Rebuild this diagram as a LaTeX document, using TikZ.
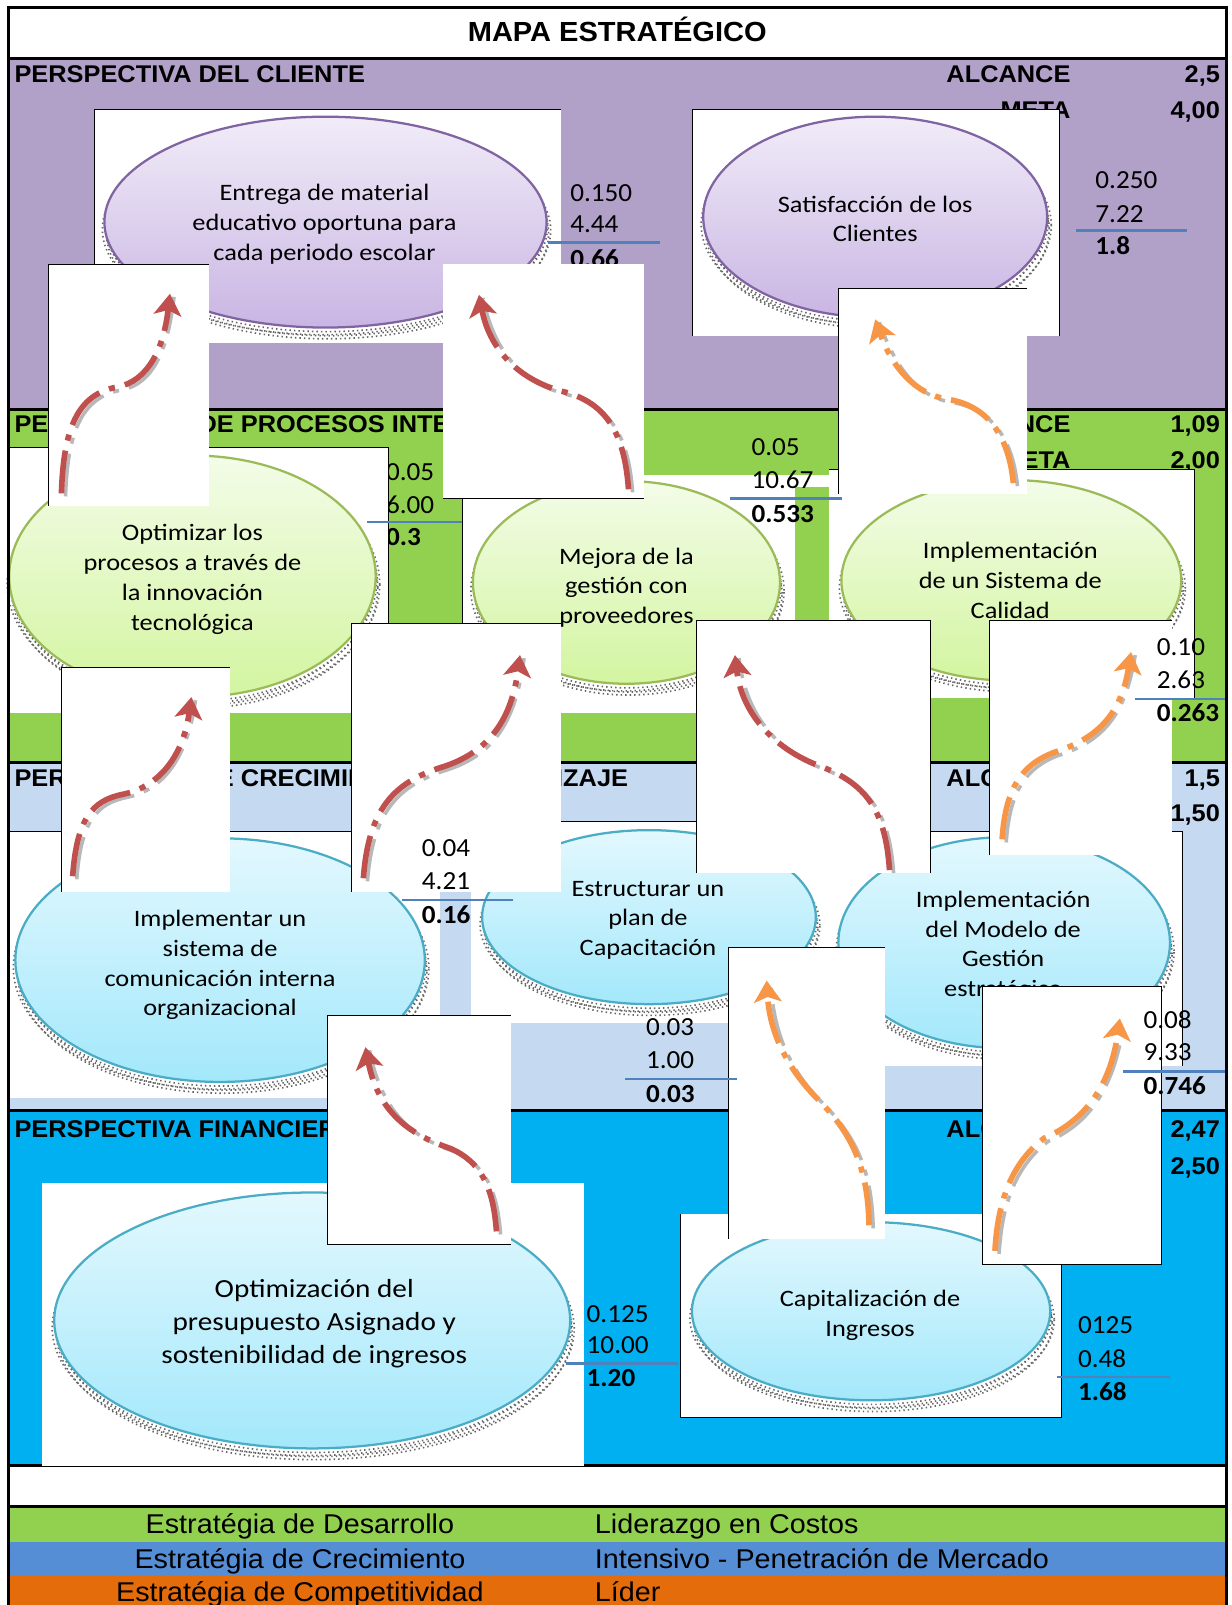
\documentclass[tikz,border=0pt]{standalone}
\usepackage{fontspec}
\usetikzlibrary{arrows.meta}
\newfontfamily\hdrfont{Liberation Sans}[FakeStretch=1.05]
\newfontfamily\legfont{Liberation Sans}[FakeStretch=1.06]
\newfontfamily\elfont{Carlito}[FakeStretch=1.12]
\newfontfamily\valfont{Carlito}[FakeStretch=1.04]

\definecolor{purpleband}{HTML}{B1A0C7}
\definecolor{greenband}{HTML}{92D050}
\definecolor{paleblue}{HTML}{C5D9F1}
\definecolor{cyanband}{HTML}{00B0F0}
\definecolor{legblue}{HTML}{558ED5}
\definecolor{legorange}{HTML}{E46C0A}
\definecolor{arrowred}{HTML}{C0504D}
\definecolor{arroworange}{HTML}{F79646}
\definecolor{ruleblue}{HTML}{4F81BD}
\definecolor{lavtop}{HTML}{F1ECF8}
\definecolor{lavbot}{HTML}{C9B5E3}
\definecolor{lavedge}{HTML}{8064A2}
\definecolor{limetop}{HTML}{F3FCE8}
\definecolor{limebot}{HTML}{D3F5A0}
\definecolor{limeedge}{HTML}{9BBB59}
\definecolor{skytop}{HTML}{E3F8FE}
\definecolor{skybot}{HTML}{A3E8FB}
\definecolor{skyedge}{HTML}{4BACC6}

% objective oval with stippled drop shadow: center, x radius, y radius, top, bottom, edge
\newcommand\drawoval[6]{%
  \foreach \dx/\dy in {1/4,4/8,-2/7,2/11}{%
    \draw[ellshadow, shift={(\dx,\dy)}] #1 ellipse [x radius=#2pt, y radius=#3pt];}
  \shade[top color=#4, bottom color=#5] #1 ellipse [x radius=#2pt, y radius=#3pt];
  \draw[#6, line width=2.2pt] #1 ellipse [x radius=#2pt, y radius=#3pt];
}

\begin{document}
\begin{tikzpicture}[x=1pt,y=-1pt,
  hdr/.style={font=\hdrfont\bfseries\fontsize{23.6}{27}\selectfont, inner sep=0pt},
  etext/.style={font=\elfont\fontsize{23}{29}\selectfont, align=center, inner sep=0pt},
  val/.style={font=\valfont\fontsize{25.5}{28}\selectfont, inner sep=0pt, anchor=base west},
  valb/.style={inner sep=0pt, anchor=base west, font=\valfont\bfseries\fontsize{25.5}{28}\selectfont},
  legtext/.style={font=\legfont\fontsize{26.5}{29}\selectfont, inner sep=0pt},
  band/.style={black, line width=3.2pt},
  boxedge/.style={black, line width=1pt},
  rule/.style={ruleblue, line width=2.4pt},
  ellshadow/.style={black!60, line width=1.6pt, dash pattern=on 1.4pt off 3pt},
  flow/.style={line width=5.5pt, dash pattern=on 42pt off 10pt on 6pt off 10pt,
    -{Stealth[length=21pt,width=27pt,inset=5pt]},
    preaction={draw=black!28, -, line width=3.5pt,
      dash pattern=on 42pt off 10pt on 6pt off 10pt,
      transform canvas={shift={(4,3)}}}},
  redflow/.style={flow, draw=arrowred},
  orgflow/.style={flow, draw=arroworange},
]
\useasboundingbox (0,0) rectangle (1203,1568);
\fill[white] (0,0) rectangle (1203,1568);

% ---------- perspective bands ----------
\fill[purpleband] (8,57) rectangle (1198,400);
\fill[greenband] (8,400) rectangle (1198,745);
\fill[paleblue] (8,745) rectangle (1198,1085);
\fill[cyanband] (8,1085) rectangle (1198,1432);
\fill[greenband] (8,1472) rectangle (1198,1506);
\fill[legblue] (8,1506) rectangle (1198,1539);
\fill[legorange] (8,1539) rectangle (1198,1570);
\foreach \yy in {57,400,745,1085,1432,1472}{\draw[band] (8,\yy) -- (1198,\yy);}

% ---------- title and band headers ----------
\node[font=\hdrfont\bfseries\fontsize{27}{30}\selectfont, anchor=base, inner sep=0pt] (title) at (603,41) {MAPA ESTRATÉGICO};

\node[hdr, anchor=base west] (hdrA) at (14,81) {PERSPECTIVA DEL CLIENTE};
\node[hdr, anchor=base east] (alcA) at (1046,81) {ALCANCE};
\node[hdr, anchor=base east] (alcAv) at (1192,81) {2,5};
\node[hdr, anchor=base east] (metA) at (1046,116) {META};
\node[hdr, anchor=base east] (metAv) at (1192,116) {4,00};

\node[hdr, anchor=base west] (hdrB) at (14,423) {PERSPECTIVA DE PROCESOS INTERNOS};
\node[hdr, anchor=base east] (alcB) at (1046,423) {ALCANCE};
\node[hdr, anchor=base east] (alcBv) at (1192,423) {1,09};
\node[hdr, anchor=base east] (metB) at (1046,458) {META};
\node[hdr, anchor=base east] (metBv) at (1192,458) {2,00};

\node[hdr, anchor=base west] (hdrC) at (14,768) {PERSPECTIVA DE CRECIMIENTO Y APRENDIZAJE};
\node[hdr, anchor=base east] (alcC) at (1046,768) {ALCANCE};
\node[hdr, anchor=base east] (alcCv) at (1192,768) {1,5};
\node[hdr, anchor=base east] (metC) at (1046,803) {META};
\node[hdr, anchor=base east] (metCv) at (1192,803) {1,50};

\node[hdr, anchor=base west] (hdrD) at (14,1111) {PERSPECTIVA FINANCIERA};
\node[hdr, anchor=base east] (alcD) at (1046,1111) {ALCANCE};
\node[hdr, anchor=base east] (alcDv) at (1192,1111) {2,47};
\node[hdr, anchor=base east] (metD) at (1046,1147) {META};
\node[hdr, anchor=base east] (metDv) at (1192,1147) {2,50};

% ---------- objective panels ----------
% customer: delivery of material
\fill[white] (92,107) rectangle (548,335);
\draw[boxedge] (92,335) -- (92,107) -- (548,107);
\drawoval{(318,217)}{216}{103}{lavtop}{lavbot}{lavedge}
\node[etext] (entrega) at (317,219) {Entrega de material\\educativo oportuna para\\cada periodo escolar};

% customer: satisfaction
\fill[white] (677,107) rectangle (1035,328);
\draw[boxedge] (677,328) -- (677,107) -- (1035,107) -- (1035,328);
\drawoval{(855,212)}{168}{98}{lavtop}{lavbot}{lavedge}
\node[etext] (satisf) at (855,214) {Satisfacción de los\\Clientes};

% processes: technology
\node[val] (dA) at (377,469) {0.05};
\node[val] (dB) at (377,502) {6.00};
\node[valb] (dC) at (377,533) {0.3};
\fill[white] (8,437) rectangle (380,697);
\draw[boxedge] (8,437) -- (380,437) -- (380,697);
\drawoval{(188,563)}{179}{118}{limetop}{limebot}{limeedge}
\node[etext] (optim) at (188,566) {Optimizar los\\procesos a través de\\la innovación\\tecnológica};
\draw[rule] (359,510) -- (468,510);

% processes: suppliers
\fill[white] (452,464) rectangle (777,697);
\fill[white] (777,464) rectangle (811,476);
\draw[boxedge] (452,464) -- (452,697);
\drawoval{(612,569)}{150}{99}{limetop}{limebot}{limeedge}
\node[etext] (mejora) at (612,574) {Mejora de la\\gestión con\\proveedores};

% processes: quality system
\fill[white] (810,459) rectangle (1167,682);
\draw[boxedge] (810,459) -- (1167,459) -- (1167,682);
\drawoval{(988,567)}{166}{98}{limetop}{limebot}{limeedge}
\node[etext] (calidad) at (987,567) {Implementación\\de un Sistema de\\Calidad};

% learning: internal communication
\fill[white] (8,812) rectangle (430,1073);
\draw[boxedge] (8,812) -- (430,812);
\drawoval{(215,938)}{200}{119}{skytop}{skybot}{skyedge}
\node[etext] (comunic) at (215,943) {Implementar un\\sistema de\\comunicación interna\\organizacional};

% learning: training plan
\fill[white] (460,803) rectangle (811,999);
\draw[boxedge] (460,803) -- (811,803) -- (811,999);
\drawoval{(634,896)}{163}{85}{skytop}{skybot}{skyedge}
\node[etext] (capacit) at (633,899) {Estructurar un\\plan de\\Capacitación};

% learning: strategic management model
\fill[white] (811,812) rectangle (1155,1041);
\draw[boxedge] (811,812) -- (1155,812) -- (1155,1041);
\drawoval{(981,921)}{162}{103}{skytop}{skybot}{skyedge}
\node[etext] (modelo) at (980,924) {Implementación\\del Modelo de\\Gestión\\estratégico};

% financial: budget
\fill[white] (41,1156) rectangle (571,1432);
\drawoval{(305,1290)}{252}{125}{skytop}{skybot}{skyedge}
\node[etext, font=\elfont\fontsize{25.5}{32.5}\selectfont] (presup) at (307,1293) {Optimización del\\presupuesto Asignado y\\sostenibilidad de ingresos};

% financial: income
\fill[white] (665,1186) rectangle (1037,1385);
\draw[boxedge] (665,1186) -- (665,1385) -- (1037,1385) -- (1037,1186);
\drawoval{(851,1281)}{175}{87}{skytop}{skybot}{skyedge}
\node[etext, font=\elfont\fontsize{23}{30}\selectfont] (capital) at (850,1285) {Capitalización de\\Ingresos};

% ---------- scores ----------
\node[val] (aA) at (557,197) {0.150};
\node[val] (aB) at (557,227) {4.44};
\node[valb] (aC) at (557,261) {0.66};
\draw[rule] (535,237) -- (645,237);

\node[val] (bA) at (1070,184) {0.250};
\node[val] (bB) at (1070,217) {7.22};
\node[valb] (bC) at (1070,249) {1.8};
\draw[rule] (1051,225) -- (1160,225);

\node[val] (eA) at (734,445) {0.05};
\node[val] (eB) at (734,477) {10.67};
\node[valb] (eC) at (734,510) {0.533};
\draw[rule] (713,487) -- (823,487);

\node[val] (lA) at (573,1292) {0.125};
\node[val] (lB) at (573,1322) {10.00};
\node[valb] (lC) at (573,1355) {1.20};
\draw[rule] (553,1332) -- (662,1332);

\node[val] (mA) at (1053,1303) {0125};
\node[val] (mB) at (1053,1336) {0.48};
\node[valb] (mC) at (1053,1368) {1.68};
\draw[rule] (1033,1345) -- (1143,1345);

% ---------- cause-effect arrows ----------
% C1
\fill[white] (47,258) rectangle (204,494);
\draw[boxedge] (47,494) -- (47,258) -- (204,258);
\coordinate (c1s) at (60,482); \coordinate (c1e) at (166,287);
\draw[redflow] (c1s) .. controls (62,420) and (75,385) .. (115,378) .. controls (145,372) and (160,340) .. (c1e);
% C2
\fill[white] (433,258) rectangle (629,487);
\draw[boxedge] (433,487) -- (629,487);
\coordinate (c2s) at (614,478); \coordinate (c2e) at (468,288);
\draw[redflow] (c2s) .. controls (610,420) and (590,392) .. (548,382) .. controls (505,370) and (478,340) .. (c2e);
% C3
\fill[white] (819,282) rectangle (1003,483);
\draw[boxedge] (819,483) -- (819,282) -- (1003,282);
\coordinate (c3s) at (990,472); \coordinate (c3e) at (855,312);
\draw[orgflow] (c3s) .. controls (985,420) and (960,395) .. (925,390) .. controls (895,385) and (872,360) .. (c3e);
% G1
\fill[white] (60,652) rectangle (225,871);
\draw[boxedge] (60,871) -- (60,652) -- (225,652);
\coordinate (g1s) at (71,856); \coordinate (g1e) at (187,681);
\draw[redflow] (g1s) .. controls (75,800) and (90,782) .. (120,776) .. controls (150,770) and (178,745) .. (g1e);
% G2
\fill[white] (343,609) rectangle (548,871);
\draw[boxedge] (343,871) -- (343,609) -- (548,609);
\coordinate (g2s) at (355,858); \coordinate (g2e) at (508,640);
\draw[redflow] (g2s) .. controls (360,790) and (385,765) .. (430,750) .. controls (480,735) and (500,700) .. (g2e);
% G3
\fill[white] (680,606) rectangle (909,853);
\draw[boxedge] (680,853) -- (680,606) -- (909,606) -- (909,853);
\coordinate (g3s) at (869,850); \coordinate (g3e) at (718,640);
\draw[redflow] (g3s) .. controls (865,790) and (845,765) .. (800,748) .. controls (760,733) and (725,700) .. (g3e);
% G4
\fill[white] (967,606) rectangle (1145,835);
\draw[boxedge] (967,835) -- (967,606) -- (1145,606);
\coordinate (g4s) at (979,820); \coordinate (g4e) at (1105,637);
\draw[orgflow] (g4s) .. controls (982,775) and (995,748) .. (1030,735) .. controls (1070,722) and (1095,700) .. (g4e);
% K1
\fill[white] (320,992) rectangle (499,1216);
\draw[boxedge] (499,1216) -- (320,1216) -- (320,992) -- (499,992);
\coordinate (k1s) at (485,1203); \coordinate (k1e) at (357,1023);
\draw[redflow] (k1s) .. controls (482,1160) and (470,1135) .. (440,1122) .. controls (405,1110) and (370,1090) .. (k1e);
% K2
\fill[white] (712,926) rectangle (865,1210);
\draw[boxedge] (712,1210) -- (712,926) -- (865,926);
\coordinate (k2s) at (849,1197); \coordinate (k2e) at (749,958);
\draw[orgflow] (k2s) .. controls (848,1145) and (835,1110) .. (800,1075) .. controls (770,1045) and (752,1010) .. (k2e);
% K3
\fill[white] (960,964) rectangle (1135,1235);
\draw[boxedge] (960,964) rectangle (1135,1235);
\coordinate (k3s) at (972,1222); \coordinate (k3e) at (1094,995);
\draw[orgflow] (k3s) .. controls (975,1170) and (990,1135) .. (1020,1112) .. controls (1060,1095) and (1085,1060) .. (k3e);

% ---------- scores set over the arrow panels ----------
\node[val] (fA) at (1130,640) {0.10};
\node[val] (fB) at (1130,673) {2.63};
\node[valb] (fC) at (1130,705) {0.263};
\draw[rule] (1109,683) -- (1198,683);

\node[val] (hA) at (412,837) {0.04};
\node[val] (hB) at (412,869) {4.21};
\node[valb] (hC) at (412,902) {0.16};
\draw[rule] (393,879) -- (501,879);

\node[val] (iA) at (631,1012) {0.03};
\node[val] (iB) at (631,1044) {1.00};
\node[valb] (iC) at (631,1077) {0.03};
\draw[rule] (611,1054) -- (720,1054);

\node[val] (jA) at (1117,1005) {0.08};
\node[val] (jB) at (1117,1036) {9.33};
\node[valb] (jC) at (1117,1069) {0.746};
\draw[rule] (1097,1047) -- (1198,1047);

% ---------- strategy legend ----------
\node[legtext, anchor=base] (leg1) at (293,1498) {Estratégia de Desarrollo};
\node[legtext, anchor=base west] (legr1) at (581,1498) {Liderazgo en Costos};
\node[legtext, anchor=base] (leg2) at (293,1532) {Estratégia de Crecimiento};
\node[legtext, anchor=base west] (legr2) at (581,1532) {Intensivo - Penetración de Mercado};
\node[legtext, anchor=base] (leg3) at (293,1565) {Estratégia de Competitividad};
\node[legtext, anchor=base west] (legr3) at (581,1565) {Líder};

% ---------- outer frame ----------
\draw[black, line width=3pt] (8,1572) -- (8,7) -- (1198,7) -- (1198,1572);
\end{tikzpicture}
\end{document}
